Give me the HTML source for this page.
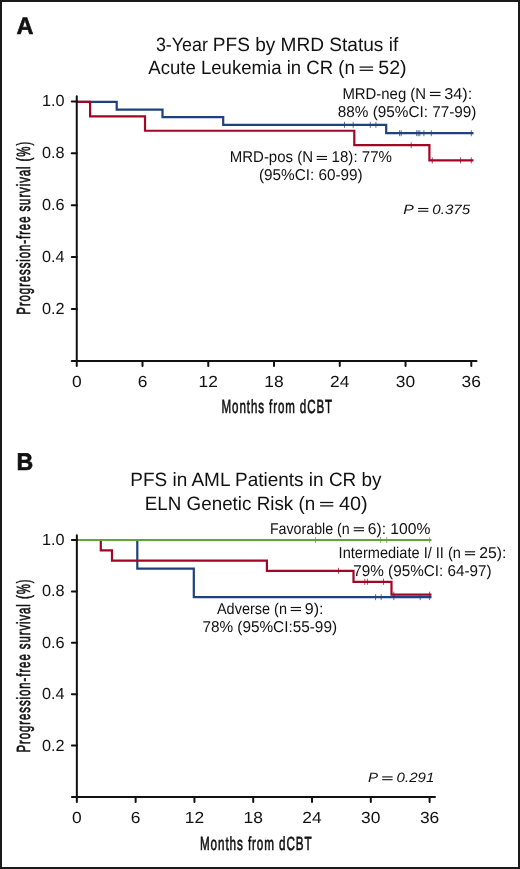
<!DOCTYPE html>
<html><head><meta charset="utf-8"><style>
html,body{margin:0;padding:0;background:#fff;}
body{width:520px;height:869px;overflow:hidden;position:relative;}
#frame{position:absolute;left:0;top:0;width:516px;height:865px;border:2px solid #1a1a1a;}
svg{position:absolute;left:0;top:0;will-change:transform;text-rendering:geometricPrecision;}
text{font-family:"Liberation Sans", sans-serif;fill:#111;stroke:#111;stroke-width:0px;}
</style></head><body>
<div id="frame"></div>
<svg width="520" height="869" viewBox="0 0 520 869">
<g id="gfx">
<path d="M76.75 101.9 L116.7 101.9 L116.7 109.53 L162.5 109.53 L162.5 117.16 L223.2 117.16 L223.2 124.8 L386.2 124.8 L386.2 133.2 L473.5 133.2" fill="none" stroke="#1f417f" stroke-width="2.2"/>
<path d="M76.75 101.9 L90.1 101.9 L90.1 116.32 L145 116.32 L145 130.73 L354.3 130.73 L354.3 145.15 L429.4 145.15 L429.4 160.4 L473.5 160.4" fill="none" stroke="#a30526" stroke-width="2.2"/>
<line x1="344.5" y1="121.8" x2="344.5" y2="127.8" stroke="#1f417f" stroke-width="0.75"/><line x1="353.2" y1="121.8" x2="353.2" y2="127.8" stroke="#1f417f" stroke-width="0.75"/><line x1="370.3" y1="121.8" x2="370.3" y2="127.8" stroke="#1f417f" stroke-width="0.75"/><line x1="375.9" y1="121.8" x2="375.9" y2="127.8" stroke="#1f417f" stroke-width="0.75"/>
<line x1="399.6" y1="130.2" x2="399.6" y2="136.2" stroke="#1f417f" stroke-width="0.75"/><line x1="401.2" y1="130.2" x2="401.2" y2="136.2" stroke="#1f417f" stroke-width="0.75"/><line x1="416.7" y1="130.2" x2="416.7" y2="136.2" stroke="#1f417f" stroke-width="0.75"/><line x1="418.2" y1="130.2" x2="418.2" y2="136.2" stroke="#1f417f" stroke-width="0.75"/><line x1="419.8" y1="130.2" x2="419.8" y2="136.2" stroke="#1f417f" stroke-width="0.75"/><line x1="423.9" y1="130.2" x2="423.9" y2="136.2" stroke="#1f417f" stroke-width="0.75"/><line x1="431.3" y1="130.2" x2="431.3" y2="136.2" stroke="#1f417f" stroke-width="0.75"/><line x1="471.3" y1="130.2" x2="471.3" y2="136.2" stroke="#1f417f" stroke-width="0.75"/>
<line x1="411.2" y1="142.15" x2="411.2" y2="148.15" stroke="#a30526" stroke-width="0.75"/>
<line x1="432.3" y1="157.4" x2="432.3" y2="163.4" stroke="#a30526" stroke-width="0.75"/><line x1="460.6" y1="157.4" x2="460.6" y2="163.4" stroke="#a30526" stroke-width="0.75"/><line x1="471.3" y1="157.4" x2="471.3" y2="163.4" stroke="#a30526" stroke-width="0.75"/>
<path d="M137.3 540 L137.3 568.56 L193.8 568.56 L193.8 597.11 L431.5 597.11" fill="none" stroke="#1f417f" stroke-width="2.2"/>
<path d="M100.8 540 L100.8 550.28 L112 550.28 L112 560.56 L266.9 560.56 L266.9 570.84 L353.5 570.84 L353.5 581.8 L391.5 581.8 L391.5 594.7 L431.5 594.7" fill="none" stroke="#a30526" stroke-width="2.2"/>
<path d="M76.85 540 L431.5 540" fill="none" stroke="#62a33a" stroke-width="2.2"/>
<line x1="315.5" y1="537" x2="315.5" y2="543" stroke="#62a33a" stroke-width="0.75"/><line x1="380.5" y1="537" x2="380.5" y2="543" stroke="#62a33a" stroke-width="0.75"/><line x1="386.7" y1="537" x2="386.7" y2="543" stroke="#62a33a" stroke-width="0.75"/><line x1="429.6" y1="537" x2="429.6" y2="543" stroke="#62a33a" stroke-width="0.75"/>
<line x1="338.5" y1="567.84" x2="338.5" y2="573.84" stroke="#a30526" stroke-width="0.75"/>
<line x1="364.8" y1="578.8" x2="364.8" y2="584.8" stroke="#a30526" stroke-width="0.75"/><line x1="367.4" y1="578.8" x2="367.4" y2="584.8" stroke="#a30526" stroke-width="0.75"/><line x1="383.5" y1="578.8" x2="383.5" y2="584.8" stroke="#a30526" stroke-width="0.75"/>
<line x1="393.8" y1="591.7" x2="393.8" y2="597.7" stroke="#a30526" stroke-width="0.75"/><line x1="429.6" y1="591.7" x2="429.6" y2="597.7" stroke="#a30526" stroke-width="0.75"/>
<line x1="375.6" y1="594.11" x2="375.6" y2="600.11" stroke="#1f417f" stroke-width="0.75"/><line x1="381.2" y1="594.11" x2="381.2" y2="600.11" stroke="#1f417f" stroke-width="0.75"/><line x1="393.8" y1="594.11" x2="393.8" y2="600.11" stroke="#1f417f" stroke-width="0.75"/><line x1="420.2" y1="594.11" x2="420.2" y2="600.11" stroke="#1f417f" stroke-width="0.75"/><line x1="429.6" y1="594.11" x2="429.6" y2="600.11" stroke="#1f417f" stroke-width="0.75"/>
<path d="M76.75 96.3 V360.9 H476.5" fill="none" stroke="#111" stroke-width="2.0" stroke-linecap="round"/><line x1="71.75" y1="360.9" x2="76.75" y2="360.9" stroke="#111" stroke-width="2.0" stroke-linecap="round"/><line x1="71.75" y1="309" x2="76.75" y2="309" stroke="#111" stroke-width="2.0" stroke-linecap="round"/><line x1="71.75" y1="257.1" x2="76.75" y2="257.1" stroke="#111" stroke-width="2.0" stroke-linecap="round"/><line x1="71.75" y1="205.2" x2="76.75" y2="205.2" stroke="#111" stroke-width="2.0" stroke-linecap="round"/><line x1="71.75" y1="153.3" x2="76.75" y2="153.3" stroke="#111" stroke-width="2.0" stroke-linecap="round"/><line x1="71.75" y1="101.4" x2="76.75" y2="101.4" stroke="#111" stroke-width="2.0" stroke-linecap="round"/><line x1="76.75" y1="360.9" x2="76.75" y2="365.9" stroke="#111" stroke-width="2.0" stroke-linecap="round"/><line x1="142.51" y1="360.9" x2="142.51" y2="365.9" stroke="#111" stroke-width="2.0" stroke-linecap="round"/><line x1="208.27" y1="360.9" x2="208.27" y2="365.9" stroke="#111" stroke-width="2.0" stroke-linecap="round"/><line x1="274.02" y1="360.9" x2="274.02" y2="365.9" stroke="#111" stroke-width="2.0" stroke-linecap="round"/><line x1="339.78" y1="360.9" x2="339.78" y2="365.9" stroke="#111" stroke-width="2.0" stroke-linecap="round"/><line x1="405.54" y1="360.9" x2="405.54" y2="365.9" stroke="#111" stroke-width="2.0" stroke-linecap="round"/><line x1="471.3" y1="360.9" x2="471.3" y2="365.9" stroke="#111" stroke-width="2.0" stroke-linecap="round"/>
<path d="M76.85 535.3 V797 H435" fill="none" stroke="#111" stroke-width="2.0" stroke-linecap="round"/><line x1="71.85" y1="797" x2="76.85" y2="797" stroke="#111" stroke-width="2.0" stroke-linecap="round"/><line x1="71.85" y1="745.6" x2="76.85" y2="745.6" stroke="#111" stroke-width="2.0" stroke-linecap="round"/><line x1="71.85" y1="694.2" x2="76.85" y2="694.2" stroke="#111" stroke-width="2.0" stroke-linecap="round"/><line x1="71.85" y1="642.8" x2="76.85" y2="642.8" stroke="#111" stroke-width="2.0" stroke-linecap="round"/><line x1="71.85" y1="591.4" x2="76.85" y2="591.4" stroke="#111" stroke-width="2.0" stroke-linecap="round"/><line x1="71.85" y1="540" x2="76.85" y2="540" stroke="#111" stroke-width="2.0" stroke-linecap="round"/><line x1="76.85" y1="797" x2="76.85" y2="802" stroke="#111" stroke-width="2.0" stroke-linecap="round"/><line x1="135.64" y1="797" x2="135.64" y2="802" stroke="#111" stroke-width="2.0" stroke-linecap="round"/><line x1="194.43" y1="797" x2="194.43" y2="802" stroke="#111" stroke-width="2.0" stroke-linecap="round"/><line x1="253.22" y1="797" x2="253.22" y2="802" stroke="#111" stroke-width="2.0" stroke-linecap="round"/><line x1="312.02" y1="797" x2="312.02" y2="802" stroke="#111" stroke-width="2.0" stroke-linecap="round"/><line x1="370.81" y1="797" x2="370.81" y2="802" stroke="#111" stroke-width="2.0" stroke-linecap="round"/><line x1="429.6" y1="797" x2="429.6" y2="802" stroke="#111" stroke-width="2.0" stroke-linecap="round"/>
</g>
<g id="txt">
<text id="ay1" x="64.6" y="314" font-size="16.1" text-anchor="end" textLength="22.61" lengthAdjust="spacingAndGlyphs">0.2</text>
<text id="ay2" x="64.6" y="262.1" font-size="16.1" text-anchor="end" textLength="22.61" lengthAdjust="spacingAndGlyphs">0.4</text>
<text id="ay3" x="64.6" y="210.2" font-size="16.1" text-anchor="end" textLength="22.61" lengthAdjust="spacingAndGlyphs">0.6</text>
<text id="ay4" x="64.6" y="158.3" font-size="16.1" text-anchor="end" textLength="22.61" lengthAdjust="spacingAndGlyphs">0.8</text>
<text id="ay5" x="64.6" y="106.4" font-size="16.1" text-anchor="end" textLength="22.61" lengthAdjust="spacingAndGlyphs">1.0</text>
<text id="ax0" x="76.75" y="386.9" font-size="16.1" text-anchor="middle" textLength="9.67" lengthAdjust="spacingAndGlyphs">0</text>
<text id="ax6" x="142.51" y="386.9" font-size="16.1" text-anchor="middle" textLength="9.67" lengthAdjust="spacingAndGlyphs">6</text>
<text id="ax12" x="208.27" y="386.9" font-size="16.1" text-anchor="middle" textLength="19.34" lengthAdjust="spacingAndGlyphs">12</text>
<text id="ax18" x="274.02" y="386.9" font-size="16.1" text-anchor="middle" textLength="19.34" lengthAdjust="spacingAndGlyphs">18</text>
<text id="ax24" x="339.78" y="386.9" font-size="16.1" text-anchor="middle" textLength="19.34" lengthAdjust="spacingAndGlyphs">24</text>
<text id="ax30" x="405.54" y="386.9" font-size="16.1" text-anchor="middle" textLength="19.34" lengthAdjust="spacingAndGlyphs">30</text>
<text id="ax36" x="471.3" y="386.9" font-size="16.1" text-anchor="middle" textLength="19.34" lengthAdjust="spacingAndGlyphs">36</text>
<text id="by1" x="64.6" y="750.6" font-size="16.1" text-anchor="end" textLength="22.61" lengthAdjust="spacingAndGlyphs">0.2</text>
<text id="by2" x="64.6" y="699.2" font-size="16.1" text-anchor="end" textLength="22.61" lengthAdjust="spacingAndGlyphs">0.4</text>
<text id="by3" x="64.6" y="647.8" font-size="16.1" text-anchor="end" textLength="22.61" lengthAdjust="spacingAndGlyphs">0.6</text>
<text id="by4" x="64.6" y="596.4" font-size="16.1" text-anchor="end" textLength="22.61" lengthAdjust="spacingAndGlyphs">0.8</text>
<text id="by5" x="64.6" y="545" font-size="16.1" text-anchor="end" textLength="22.61" lengthAdjust="spacingAndGlyphs">1.0</text>
<text id="bx0" x="76.85" y="823" font-size="16.1" text-anchor="middle" textLength="9.67" lengthAdjust="spacingAndGlyphs">0</text>
<text id="bx6" x="135.64" y="823" font-size="16.1" text-anchor="middle" textLength="9.67" lengthAdjust="spacingAndGlyphs">6</text>
<text id="bx12" x="194.43" y="823" font-size="16.1" text-anchor="middle" textLength="19.34" lengthAdjust="spacingAndGlyphs">12</text>
<text id="bx18" x="253.22" y="823" font-size="16.1" text-anchor="middle" textLength="19.34" lengthAdjust="spacingAndGlyphs">18</text>
<text id="bx24" x="312.02" y="823" font-size="16.1" text-anchor="middle" textLength="19.34" lengthAdjust="spacingAndGlyphs">24</text>
<text id="bx30" x="370.81" y="823" font-size="16.1" text-anchor="middle" textLength="19.34" lengthAdjust="spacingAndGlyphs">30</text>
<text id="bx36" x="429.6" y="823" font-size="16.1" text-anchor="middle" textLength="19.34" lengthAdjust="spacingAndGlyphs">36</text>
<text id="A" x="16.5" y="34.4" font-size="24" text-anchor="start" font-weight="bold" textLength="16.94" lengthAdjust="spacingAndGlyphs" style="stroke-width:0.6px;">A</text>
<text id="tA1a" x="155.88" y="51" font-size="19.2" text-anchor="start" textLength="52.02" lengthAdjust="spacingAndGlyphs">3-Year</text>
<text id="tA1b" x="212.78" y="51" font-size="19.2" text-anchor="start" textLength="185.45" lengthAdjust="spacingAndGlyphs">PFS by MRD Status if</text>
<text id="tA2L" x="148.33" y="74" font-size="19.2" text-anchor="start" textLength="206.4" lengthAdjust="spacingAndGlyphs">Acute Leukemia in CR (n</text>
<text id="tA2R" x="378.27" y="74" font-size="19.2" text-anchor="start" textLength="28.4" lengthAdjust="spacingAndGlyphs">52)</text>
<text id="nA1L" x="342.39" y="98.6" font-size="15.7" text-anchor="start" textLength="83.71" lengthAdjust="spacingAndGlyphs">MRD-neg (N</text>
<text id="nA1R" x="444.18" y="98.6" font-size="15.7" text-anchor="start" textLength="28.12" lengthAdjust="spacingAndGlyphs">34):</text>
<text id="nA2" x="337.78" y="116.8" font-size="15.7" text-anchor="start" textLength="138.71" lengthAdjust="spacingAndGlyphs">88% (95%CI: 77-99)</text>
<text id="pA1L" x="229.75" y="162.4" font-size="15.7" text-anchor="start" textLength="83.26" lengthAdjust="spacingAndGlyphs">MRD-pos (N</text>
<text id="pA1R" x="331.61" y="162.4" font-size="15.7" text-anchor="start" textLength="60.32" lengthAdjust="spacingAndGlyphs">18): 77%</text>
<text id="pA2" x="258.96" y="180.3" font-size="15.7" text-anchor="start" textLength="103.73" lengthAdjust="spacingAndGlyphs">(95%CI: 60-99)</text>
<text id="PAL" x="403.31" y="213.8" font-size="13.5" text-anchor="start" font-style="italic" textLength="10.54" lengthAdjust="spacingAndGlyphs">P</text>
<text id="PAR" x="432.33" y="213.8" font-size="13.5" text-anchor="start" font-style="italic" textLength="37.81" lengthAdjust="spacingAndGlyphs">0.375</text>
<text id="xA" x="221.59" y="413.4" font-size="19" text-anchor="start" textLength="111.44" lengthAdjust="spacingAndGlyphs" style="stroke-width:0.65px;letter-spacing:1.5px;">Months from dCBT</text>
<text id="yA" transform="translate(30.4 314.66) rotate(-90)" x="0" y="0" font-size="19" textLength="173.78" lengthAdjust="spacingAndGlyphs" style="stroke-width:0.65px;letter-spacing:1.5px;">Progression-free survival (%)</text>
<text id="B" x="16.38" y="469.7" font-size="24.2" text-anchor="start" font-weight="bold" textLength="16.72" lengthAdjust="spacingAndGlyphs" style="stroke-width:0.6px;">B</text>
<text id="tB1" x="130.34" y="486.4" font-size="19.2" text-anchor="start" textLength="251.26" lengthAdjust="spacingAndGlyphs">PFS in AML Patients in CR by</text>
<text id="tB2L" x="144.74" y="509.6" font-size="19.2" text-anchor="start" textLength="170.45" lengthAdjust="spacingAndGlyphs">ELN Genetic Risk (n</text>
<text id="tB2R" x="339.01" y="509.6" font-size="19.2" text-anchor="start" textLength="28.69" lengthAdjust="spacingAndGlyphs">40)</text>
<text id="fBL" x="269.88" y="534" font-size="15.7" text-anchor="start" textLength="79.9" lengthAdjust="spacingAndGlyphs">Favorable (n</text>
<text id="fBR" x="367.73" y="534" font-size="15.7" text-anchor="start" textLength="62.64" lengthAdjust="spacingAndGlyphs">6): 100%</text>
<text id="iB1L" x="338.61" y="557.9" font-size="15.7" text-anchor="start" textLength="122.31" lengthAdjust="spacingAndGlyphs">Intermediate I/ II (n</text>
<text id="iB1R" x="479.32" y="557.9" font-size="15.7" text-anchor="start" textLength="27.17" lengthAdjust="spacingAndGlyphs">25):</text>
<text id="iB2" x="353.25" y="575.6" font-size="15.7" text-anchor="start" textLength="138.42" lengthAdjust="spacingAndGlyphs">79% (95%CI: 64-97)</text>
<text id="aB1L" x="216.93" y="613.8" font-size="15.7" text-anchor="start" textLength="70.04" lengthAdjust="spacingAndGlyphs">Adverse (n</text>
<text id="aB1R" x="304.84" y="613.8" font-size="15.7" text-anchor="start" textLength="18.75" lengthAdjust="spacingAndGlyphs">9):</text>
<text id="aB2" x="202.41" y="631.8" font-size="15.7" text-anchor="start" textLength="134.62" lengthAdjust="spacingAndGlyphs">78% (95%CI:55-99)</text>
<text id="PBL" x="368.09" y="781.9" font-size="13.5" text-anchor="start" font-style="italic" textLength="10.09" lengthAdjust="spacingAndGlyphs">P</text>
<text id="PBR" x="396.58" y="781.9" font-size="13.5" text-anchor="start" font-style="italic" textLength="37.7" lengthAdjust="spacingAndGlyphs">0.291</text>
<text id="xB" x="199.94" y="849.6" font-size="19" text-anchor="start" textLength="112.66" lengthAdjust="spacingAndGlyphs" style="stroke-width:0.65px;letter-spacing:1.5px;">Months from dCBT</text>
<text id="yB" transform="translate(30.4 752.5) rotate(-90)" x="0" y="0" font-size="19" textLength="173.95" lengthAdjust="spacingAndGlyphs" style="stroke-width:0.65px;letter-spacing:1.5px;">Progression-free survival (%)</text>
<g id="eqs"><rect x="359.6" y="66.47" width="13.5" height="1.25" fill="#111"/><rect x="359.6" y="69.67" width="13.5" height="1.25" fill="#111"/><rect x="429.9" y="91.83" width="10.6" height="1.15" fill="#111"/><rect x="429.9" y="94.92" width="10.6" height="1.15" fill="#111"/><rect x="316.7" y="155.93" width="10.3" height="1.15" fill="#111"/><rect x="316.7" y="158.83" width="10.3" height="1.15" fill="#111"/><rect x="418.1" y="207.95" width="10.25" height="1.1" fill="#111"/><rect x="418.1" y="210.7" width="10.25" height="1.1" fill="#111"/><rect x="320.1" y="501.88" width="13.2" height="1.25" fill="#111"/><rect x="320.1" y="505.27" width="13.2" height="1.25" fill="#111"/><rect x="353.75" y="527.22" width="10.21" height="1.15" fill="#111"/><rect x="353.75" y="530.12" width="10.21" height="1.15" fill="#111"/><rect x="464.9" y="551.22" width="10.2" height="1.15" fill="#111"/><rect x="464.9" y="554.12" width="10.2" height="1.15" fill="#111"/><rect x="290.7" y="606.92" width="10.3" height="1.15" fill="#111"/><rect x="290.7" y="609.92" width="10.3" height="1.15" fill="#111"/><rect x="382.2" y="776.35" width="10.4" height="1.1" fill="#111"/><rect x="382.2" y="779.15" width="10.4" height="1.1" fill="#111"/></g>
</g>
</svg>
</body></html>
